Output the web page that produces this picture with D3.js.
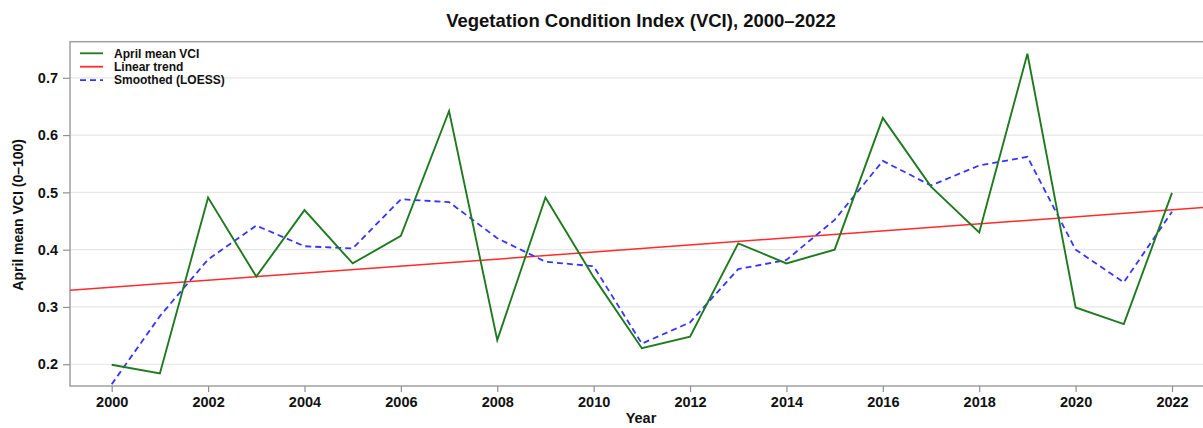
<!DOCTYPE html>
<html>
<head>
<meta charset="utf-8">
<script src="https://cdn.jsdelivr.net/npm/d3@7"></script>
<style>
  body { margin: 0; background: #fff; }
  svg { display: block; font-family: "Liberation Sans", Arial, sans-serif; }
</style>
</head>
<body>
<svg id="chart" width="1203" height="428"></svg>
<script>
// data
const years = [2000, 2001, 2002, 2003, 2004, 2005, 2006, 2007, 2008, 2009, 2010, 2011,
  2012, 2013, 2014, 2015, 2016, 2017, 2018, 2019, 2020, 2021, 2022];
const vci = [0.199, 0.184, 0.491, 0.353, 0.469, 0.376, 0.424, 0.642, 0.242, 0.491, 0.352, 0.228,
  0.248, 0.411, 0.376, 0.400, 0.630, 0.510, 0.430, 0.742, 0.299, 0.270, 0.499];
const loess = [0.165, 0.284, 0.383, 0.442, 0.406, 0.402, 0.488, 0.483, 0.420, 0.379, 0.371, 0.236,
  0.273, 0.366, 0.382, 0.452, 0.555, 0.512, 0.547, 0.562, 0.400, 0.343, 0.466];
// linear trend, read at both ends of the frame
const trendYears = [1999.13, 2022.87];
const trendValues = [0.329, 0.475];
const yTicks = [0.2, 0.3, 0.4, 0.5, 0.6, 0.7];
const xTicks = [2000, 2002, 2004, 2006, 2008, 2010, 2012, 2014, 2016, 2018, 2020, 2022];
const legendItems = [
  { label: "April mean VCI", color: "#1f7a1f", dash: null },
  { label: "Linear trend", color: "#ff2a2a", dash: null },
  { label: "Smoothed (LOESS)", color: "#3535ff", dash: "6,4" }
];

const svg = d3.select("#chart");
const plotLeft = 70, plotRight = 1214, plotTop = 41.7, plotBottom = 386;

const x = d3.scaleLinear().domain([2000, 2022]).range([111.7, 1172]);
const y = d3.scaleLinear().domain([0.162, 0.763]).range([plotBottom, plotTop]);

// grid
svg.append("g")
  .selectAll("line")
  .data(yTicks)
  .join("line")
  .attr("x1", plotLeft).attr("x2", plotRight)
  .attr("y1", d => y(d)).attr("y2", d => y(d))
  .attr("stroke", "#e6e6e6")
  .attr("stroke-width", 1.2);

// frame
svg.append("rect")
  .attr("x", plotLeft).attr("y", plotTop)
  .attr("width", plotRight - plotLeft).attr("height", plotBottom - plotTop)
  .attr("fill", "none")
  .attr("stroke", "#a0a0a0")
  .attr("stroke-width", 1.5);

// axes
const yAxis = svg.append("g")
  .attr("transform", `translate(${plotLeft},0)`)
  .call(d3.axisLeft(y).tickValues(yTicks).tickFormat(d3.format(".1f")).tickSize(7).tickPadding(5));
const xAxis = svg.append("g")
  .attr("transform", `translate(0,${plotBottom})`)
  .call(d3.axisBottom(x).tickValues(xTicks).tickFormat(d3.format("d")).tickSize(6).tickPadding(5));
[yAxis, xAxis].forEach(g => {
  g.select(".domain").remove();
  g.selectAll(".tick line").attr("stroke", "#909090").attr("stroke-width", 1.2);
  g.selectAll(".tick text")
    .attr("fill", "#111")
    .style("font-size", "14.5px")
    .style("font-weight", "bold")
    .style("font-family", "'Liberation Sans', Arial, sans-serif");
});

svg.append("clipPath").attr("id", "plotclip")
  .append("rect")
  .attr("x", plotLeft).attr("y", plotTop)
  .attr("width", plotRight - plotLeft).attr("height", plotBottom - plotTop);

const plot = svg.append("g").attr("clip-path", "url(#plotclip)");
const line = d3.line().x(d => x(d[0])).y(d => y(d[1]));

// linear trend
plot.append("path")
  .datum(d3.zip(trendYears, trendValues))
  .attr("d", line)
  .attr("fill", "none")
  .attr("stroke", legendItems[1].color)
  .attr("stroke-width", 1.5);

// LOESS
plot.append("path")
  .datum(d3.zip(years, loess))
  .attr("d", line)
  .attr("fill", "none")
  .attr("stroke", legendItems[2].color)
  .attr("stroke-width", 1.8)
  .attr("stroke-dasharray", legendItems[2].dash);

// April mean VCI
plot.append("path")
  .datum(d3.zip(years, vci))
  .attr("d", line)
  .attr("fill", "none")
  .attr("stroke", legendItems[0].color)
  .attr("stroke-width", 1.9);

// legend
const legend = svg.append("g").attr("transform", "translate(80,53.3)");
legendItems.forEach((it, i) => {
  const row = legend.append("g").attr("transform", `translate(0,${i * 13.4})`);
  row.append("line")
    .attr("x1", 0).attr("x2", 23)
    .attr("stroke", it.color)
    .attr("stroke-width", 1.8)
    .attr("stroke-dasharray", it.dash);
  row.append("text")
    .attr("x", 34).attr("y", 4.2)
    .attr("fill", "#111")
    .style("font-size", "12px")
    .style("font-weight", "bold")
    .text(it.label);
});

// title and axis labels
svg.append("text")
  .attr("x", 641).attr("y", 27)
  .attr("text-anchor", "middle")
  .attr("fill", "#111")
  .style("font-size", "18.5px")
  .style("font-weight", "bold")
  .text("Vegetation Condition Index (VCI), 2000–2022");

svg.append("text")
  .attr("transform", `translate(23,${(plotTop + plotBottom) / 2 + 1}) rotate(-90)`)
  .attr("text-anchor", "middle")
  .attr("fill", "#111")
  .style("font-size", "14px")
  .style("font-weight", "bold")
  .text("April mean VCI (0–100)");

svg.append("text")
  .attr("x", 641).attr("y", 423)
  .attr("text-anchor", "middle")
  .attr("fill", "#111")
  .style("font-size", "14.5px")
  .style("font-weight", "bold")
  .text("Year");
</script>
</body>
</html>
